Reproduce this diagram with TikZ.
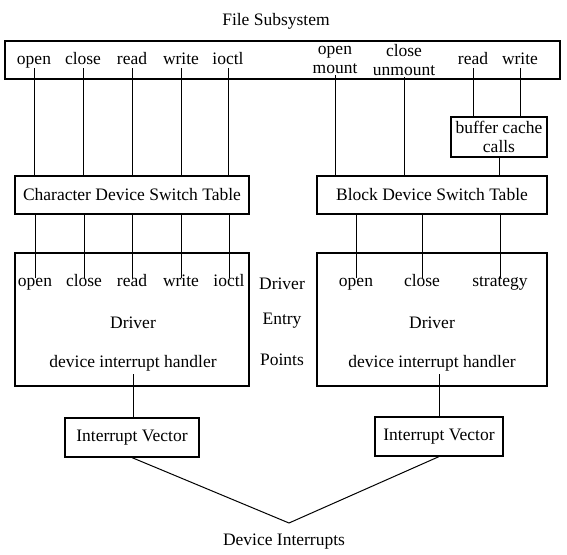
\documentclass[tikz,border=0pt]{standalone}
\usepackage{fontspec}
\setmainfont{Liberation Serif}

\begin{document}
\begin{tikzpicture}[
    x=1pt, y=-1pt,
    every node/.style={font=\fontsize{17.5}{18.5}\selectfont},
    caixa/.style={
    draw,
    line width=1.2pt,
    inner sep=0pt,
    align=center
    },
    rotulo/.style={inner sep=1.5pt, text height=0.68em, text depth=0.22em},
    duplo/.style={inner sep=1.5pt, align=center},
    liga/.style={line width=1pt}
    ]
    \useasboundingbox (0,0) rectangle (567,554);

    % file subsystem
    \node (titulo) at (276,21) {File Subsystem};
    \node[caixa, minimum width=555pt, minimum height=38pt] (fs) at (282.5,60) {};

    \node[rotulo] (fopen) at (34,62) {open};
    \node[rotulo] (fclose) at (83,62) {close};
    \node[rotulo] (fread) at (132,62) {read};
    \node[rotulo] (fwrite) at (181,62) {write};
    \node[rotulo] (fioctl) at (228,62) {ioctl};
    \node[duplo] (fmount) at (335,60) {open\\mount};
    \node[duplo] (funmount) at (404,60) {close\\unmount};
    \node[rotulo] (fbread) at (473,62) {read};
    \node[rotulo] (fbwrite) at (520,62) {write};

    \node[caixa, minimum width=96pt, minimum height=40pt] (buf) at (499,137)
    {buffer cache\\calls};

    % switch tables
    \node[caixa, minimum width=234pt, minimum height=38pt] (cdsw) at (132,195)
    {Character Device Switch Table};
    \node[caixa, minimum width=230pt, minimum height=38pt] (bdsw) at (432,195)
    {Block Device Switch Table};

    % drivers
    \node[caixa, minimum width=234pt, minimum height=133pt] (cdrv) at (132,319.5) {};
    \node[caixa, minimum width=230pt, minimum height=133pt] (bdrv) at (432,319.5) {};

    \node[rotulo] (copen) at (35,284) {open};
    \node[rotulo] (cclose) at (84,284) {close};
    \node[rotulo] (cread) at (132,284) {read};
    \node[rotulo] (cwrite) at (181,284) {write};
    \node[rotulo] (cioctl) at (229,284) {ioctl};
    \node[rotulo] (bopen) at (356,284) {open};
    \node[rotulo] (bclose) at (422,284) {close};
    \node[rotulo] (bstrat) at (500,284) {strategy};

    \node (cnome) at (133,323) {Driver};
    \node (chand) at (133,363) {device interrupt handler};
    \node (bnome) at (432,323) {Driver};
    \node (bhand) at (432,363) {device interrupt handler};

    \node (mdriver) at (282,284) {Driver};
    \node (mentry) at (282,321) {Entry};
    \node (mpoints) at (282,360) {Points};

    % interrupts
    \node[caixa, minimum width=134pt, minimum height=39pt] (civ) at (132,437.5)
    {Interrupt Vector};
    \node[caixa, minimum width=128pt, minimum height=39pt] (biv) at (439,436.5)
    {Interrupt Vector};

    \coordinate (apex) at (289,523);
    \node (devint) at (284,542) {Device Interrupts};

    \draw[liga] (fopen.south) -- (fopen.south |- cdsw.north);
    \draw[liga] (fclose.south) -- (fclose.south |- cdsw.north);
    \draw[liga] (fread.south) -- (fread.south |- cdsw.north);
    \draw[liga] (fwrite.south) -- (fwrite.south |- cdsw.north);
    \draw[liga] (fioctl.south) -- (fioctl.south |- cdsw.north);
    \draw[liga] (fmount.south) -- (fmount.south |- bdsw.north);
    \draw[liga] (funmount.south) -- (funmount.south |- bdsw.north);
    \draw[liga] (fbread.south) -- (fbread.south |- buf.north);
    \draw[liga] (fbwrite.south) -- (fbwrite.south |- buf.north);
    \draw[liga] (buf.south) -- (buf.south |- bdsw.north);

    \draw[liga] (copen.north |- cdsw.south) -- (copen.north);
    \draw[liga] (cclose.north |- cdsw.south) -- (cclose.north);
    \draw[liga] (cread.north |- cdsw.south) -- (cread.north);
    \draw[liga] (cwrite.north |- cdsw.south) -- (cwrite.north);
    \draw[liga] (cioctl.north |- cdsw.south) -- (cioctl.north);
    \draw[liga] (bopen.north |- bdsw.south) -- (bopen.north);
    \draw[liga] (bclose.north |- bdsw.south) -- (bclose.north);
    \draw[liga] (bstrat.north |- bdsw.south) -- (bstrat.north);

    \draw[liga] (chand.south) -- (chand.south |- civ.north);
    \draw[liga] (biv.north |- bhand.south) -- (biv.north);
    \draw[liga] (civ.south) -- (apex) -- (biv.south);

    \end{tikzpicture}
\end{document}
